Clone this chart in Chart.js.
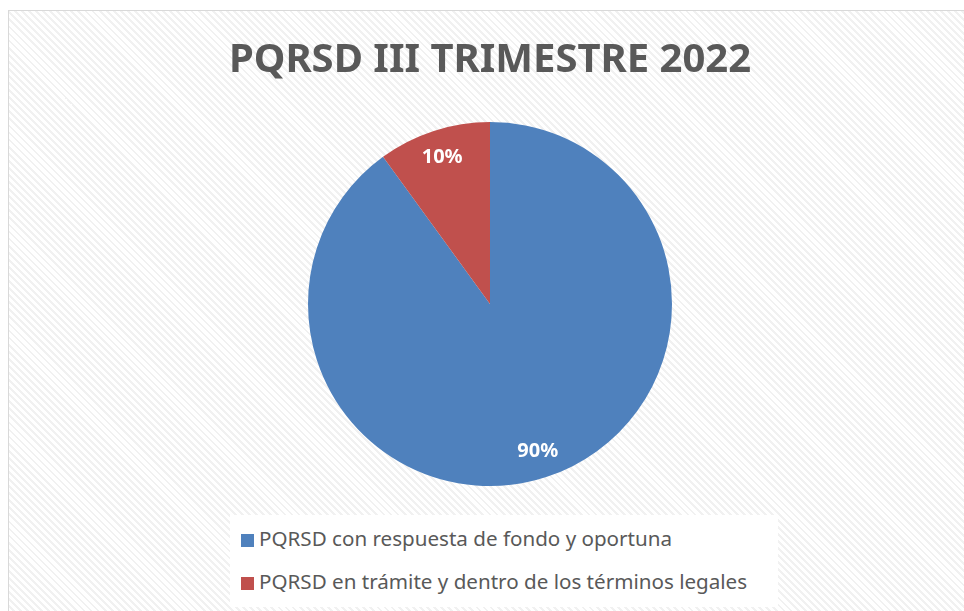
<!DOCTYPE html>
<html>
<head>
<meta charset="utf-8">
<script src="https://cdn.jsdelivr.net/npm/chart.js@4"></script>
<style>
  html, body { margin: 0; padding: 0; background: #fff; }
  #frame {
    position: absolute; left: 8px; top: 10px; width: 960px; height: 610px;
    border: 1px solid #d9d9d9; box-sizing: border-box;
    background: repeating-linear-gradient(45deg, #ffffff 0 3px, #f1f1f1 3px 5px);
  }
  #wrap { position: absolute; left: 0; top: 0; width: 964px; height: 611px; }
  #legend {
    position: absolute; left: 230px; top: 515px; width: 548px; height: 92px;
    background: #fff; font-family: "Noto Sans", sans-serif; font-size: 20.6px; color: #595959;
  }
  #legend .item { position: absolute; left: 11px; white-space: nowrap; line-height: 24px; }
  #legend .box { display: inline-block; width: 13px; height: 13px; margin-right: 5px; vertical-align: -1px; }
</style>
</head>
<body>
<div id="frame"></div>
<div id="wrap"><canvas id="chart" width="964" height="611"></canvas></div>
<div id="legend"></div>
<script>
const labels = ['PQRSD con respuesta de fondo y oportuna', 'PQRSD en trámite y dentro de los términos legales'];
const values = [90, 10];
const colors = ['#4F81BD', '#C0504D'];
const titleText = 'PQRSD III TRIMESTRE 2022';

// white % labels inside the slices, near the rim
const pctLabels = {
  id: 'pctLabels',
  afterDatasetsDraw(chart) {
    const ctx = chart.ctx;
    const meta = chart.getDatasetMeta(0);
    const total = values.reduce((a, b) => a + b, 0);
    ctx.save();
    ctx.font = 'bold 20px "Noto Sans", sans-serif';
    ctx.fillStyle = '#fff';
    ctx.textAlign = 'center';
    ctx.textBaseline = 'middle';
    meta.data.forEach((arc, i) => {
      const p = arc.getProps(['x', 'y', 'startAngle', 'endAngle', 'outerRadius'], true);
      const mid = (p.startAngle + p.endAngle) / 2;
      const r = p.outerRadius * 0.85;
      ctx.fillText(Math.round(values[i] / total * 100) + '%', p.x + Math.cos(mid) * r, p.y + Math.sin(mid) * r);
    });
    ctx.restore();
  }
};

const chart = new Chart(document.getElementById('chart'), {
  type: 'pie',
  data: { labels, datasets: [{ data: values, backgroundColor: colors, borderWidth: 0, hoverOffset: 0 }] },
  options: {
    responsive: false,
    animation: false,
    layout: { padding: { left: 16, right: 0, top: 0, bottom: 125 } },
    plugins: {
      legend: { display: false },
      tooltip: { enabled: false },
      title: {
        display: true, text: titleText, color: '#595959',
        font: { family: 'Noto Sans', size: 40, weight: 'bold', lineHeight: 1.2 },
        padding: { top: 37, bottom: 37 }
      }
    }
  },
  plugins: [pctLabels]
});

const legendEl = document.getElementById('legend');
labels.forEach((l, i) => {
  const d = document.createElement('div');
  d.className = 'item';
  d.style.top = (11 + i * 43) + 'px';
  d.innerHTML = '<span class="box" style="background:' + colors[i] + '"></span>' + l;
  legendEl.appendChild(d);
});
</script>
</body>
</html>
